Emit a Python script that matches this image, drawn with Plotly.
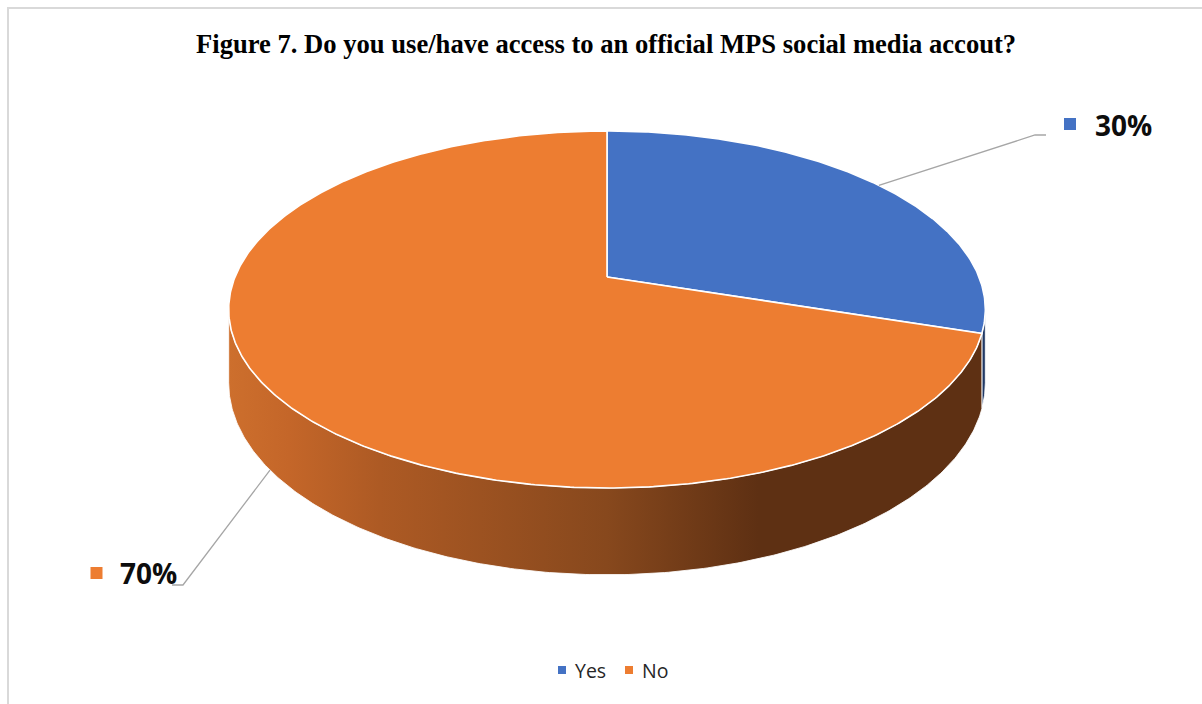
import numpy as np
import plotly.graph_objects as go

# ---- data -------------------------------------------------------------
categories = ["Yes", "No"]
shares = [30, 70]                      # percent of respondents
slice_colors = ["#4472C4", "#ED7D31"]
side_scales = [
    [[0.0, "#2F5597"], [1.0, "#203864"]],
    [[0.0, "#CD6F2D"], [0.08, "#C46629"], [0.2, "#AD5A24"],
     [0.5, "#87481D"], [0.7, "#5E3013"], [1.0, "#5E3013"]],
]
title_text = "Figure 7. Do you use/have access to an official MPS social media accout?"

# ---- geometry of the tilted disc (pixel units) --------------------------
W, H = 1202, 704
CX, CY = 607, 277          # apex of the pie
RX, RY = 372, 172.6        # radii before perspective
PERSP = 0.182              # foreshortening of the far half
DEPTH = 71                 # thickness of the disc
START = 90                 # first slice begins at 12 o'clock, runs clockwise
SIL = np.degrees(np.arcsin(PERSP))     # angle where the side silhouette sits

# label anchors: leader elbow (x0, x1, y), key-square centre, text position
label_layout = {
    "Yes": dict(elbow=(1046, 1035, 135), key=(1070, 124), text=(1093, 125)),
    "No": dict(elbow=(172, 183, 585), key=(96.5, 573), text=(118, 573)),
}


def proj(t_deg, drop=0.0):
    t = np.radians(np.asarray(t_deg, dtype=float))
    x3, d3 = np.cos(t), np.sin(t)
    w = 1.0 / (1.0 + PERSP * d3)
    return CX + RX * x3 * w, CY - RY * d3 * w + drop * w


def arc(a, b, n=None):
    n = n or max(8, int(abs(b - a) * 2))
    return np.linspace(a, b, n)


fig = go.Figure()

# slice angle ranges (decreasing angle = clockwise)
bounds = []
cur = START
for v in shares:
    span = 360.0 * v / sum(shares)
    bounds.append((cur, cur - span))
    cur -= span

vis_lo, vis_hi = -180 + SIL, -SIL      # front side that faces the viewer

# side walls
for (a, b), scale in zip(bounds, side_scales):
    for k in (-1, 0, 1):
        lo, hi = max(b, vis_lo + 360 * k), min(a, vis_hi + 360 * k)
        if hi - lo <= 0.01:
            continue
        ts = arc(hi, lo)
        xt, yt = proj(ts)
        xb, yb = proj(ts[::-1], DEPTH)
        xs = np.concatenate([xt, xb, xt[:1]])
        ys = np.concatenate([yt, yb, yt[:1]])
        fig.add_trace(go.Scatter(
            x=xs, y=ys, mode="lines", fill="toself",
            fillgradient=dict(type="horizontal", colorscale=scale,
                              start=CX - RX * 1.017, stop=CX + RX * 1.017),
            line=dict(color="rgba(255,255,255,0.85)", width=1),
            hoverinfo="skip", showlegend=False))

# top faces
for (a, b), col, name in zip(bounds, slice_colors, categories):
    xr, yr = proj(arc(a, b))
    xs = np.concatenate([[CX], xr, [CX]])
    ys = np.concatenate([[CY], yr, [CY]])
    fig.add_trace(go.Scatter(
        x=xs, y=ys, mode="lines", fill="toself", fillcolor=col,
        line=dict(color="white", width=1.6), name=name,
        hoverinfo="name", showlegend=False))

# leader lines, label keys and percentage labels
for (a, b), col, name, v in zip(bounds, slice_colors, categories, shares):
    mid = (a + b) / 2
    m = ((mid + 180) % 360) - 180
    on_front = vis_lo <= m <= vis_hi
    px, py = proj(mid, DEPTH if on_front else 0.0)
    lay = label_layout[name]
    ex0, ex1, ey = lay["elbow"]
    fig.add_trace(go.Scatter(
        x=[ex0, ex1, float(px)], y=[ey, ey, float(py)], mode="lines",
        line=dict(color="#A6A6A6", width=1.3),
        hoverinfo="skip", showlegend=False))
    kx, ky = lay["key"]
    fig.add_trace(go.Scatter(
        x=[kx], y=[ky], mode="markers",
        marker=dict(symbol="square", size=12, color=col, line=dict(width=0)),
        hoverinfo="skip", showlegend=False))
    tx, ty = lay["text"]
    fig.add_annotation(x=tx, y=ty, xref="x", yref="y", text=f"<b>{v}%</b>",
                       showarrow=False, xanchor="left", yanchor="middle",
                       font=dict(family="Open Sans", size=28, color="#0D0D0D"))

# legend along the bottom
legend_keys = [(562, 670), (629, 670)]
for (lx, ly), col, name in zip(legend_keys, slice_colors, categories):
    fig.add_trace(go.Scatter(
        x=[lx], y=[ly], mode="markers",
        marker=dict(symbol="square", size=8, color=col, line=dict(width=0)),
        hoverinfo="skip", showlegend=False))
    fig.add_annotation(x=lx + 11, y=ly, xref="x", yref="y", text=name,
                       showarrow=False, xanchor="left", yanchor="middle",
                       font=dict(family="Open Sans", size=19.5, color="#262626"))

# title
fig.add_annotation(x=606, y=44, xref="x", yref="y", text=f"<b>{title_text}</b>",
                   showarrow=False, xanchor="center", yanchor="middle",
                   font=dict(family="Liberation Serif", size=26.6, color="black"))

# chart-area border
fig.add_shape(type="rect", xref="x", yref="y", x0=8, y0=8, x1=W + 10, y1=H + 10,
              line=dict(color="#D9D9D9", width=2), fillcolor="rgba(0,0,0,0)")

fig.update_layout(
    width=W, height=H, margin=dict(l=0, r=0, t=0, b=0),
    paper_bgcolor="white", plot_bgcolor="white",
    xaxis=dict(range=[0, W], visible=False, fixedrange=True),
    yaxis=dict(range=[H, 0], visible=False, fixedrange=True),
    showlegend=False,
)

fig.write_html("out.html")
